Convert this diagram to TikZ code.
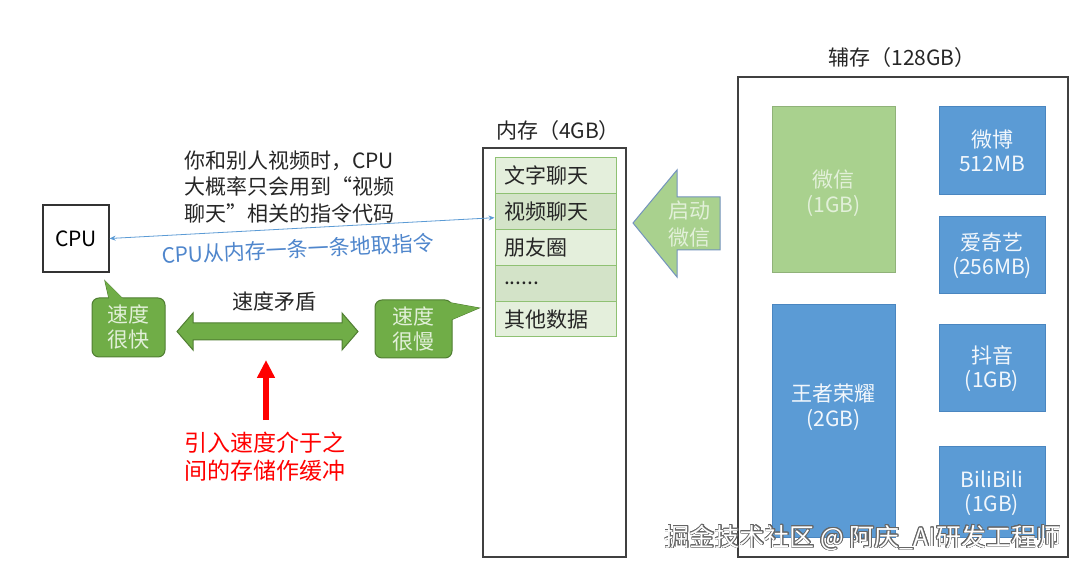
\documentclass[tikz,border=0pt]{standalone}
\usepackage{fontspec}
\setmainfont{Noto Sans CJK SC}
\usepackage{contour}
\usetikzlibrary{arrows.meta,positioning}

\definecolor{frame}{HTML}{404040}
\definecolor{fastgreen}{HTML}{70AD47}
\definecolor{greenedge}{HTML}{507E32}
\definecolor{palegreen}{HTML}{E2F0D9}
\definecolor{slotlight}{HTML}{E4EFDC}
\definecolor{slotdark}{HTML}{D3E3C8}
\definecolor{slotedge}{HTML}{8FC173}
\definecolor{wxgreen}{HTML}{A9D18E}
\definecolor{startedge}{HTML}{7393BD}
\definecolor{appblue}{HTML}{5B9BD5}
\definecolor{blueedge}{HTML}{4A86C0}
\definecolor{textblue}{HTML}{4F86CC}

\newcommand\slotdots{......}

\begin{document}
\begin{tikzpicture}[
  x=1pt, y=-1pt,
  font=\fontsize{21pt}{26.5pt}\selectfont,
  inner sep=0pt,
  box/.style={draw=frame, line width=1.2pt, fill=white},
  slot/.style={
    draw=slotedge, line width=1pt, minimum width=121pt, minimum height=35.8pt,
    text width=103pt, inner xsep=9pt, align=left, text=black!85,
  },
  bubble/.style={
    draw=greenedge, fill=fastgreen, line width=1pt, rounded corners=7pt,
    align=center, text=palegreen, font=\fontsize{21pt}{25pt}\selectfont,
  },
  tail/.style={draw=greenedge, fill=fastgreen, line width=1pt},
  app/.style={draw=blueedge, fill=appblue, line width=1pt},
  apptext/.style={align=center, text=white!92!appblue, font=\fontsize{21pt}{24.5pt}\selectfont},
  flow/.style={{Stealth[length=6pt, width=5pt]}-{Stealth[length=6pt, width=5pt]}, draw=appblue, line width=0.8pt},
  buffer/.style={-{Triangle[length=18pt, width=17pt]}, draw=red, line width=6pt},
]

\fill[white] (0,0) rectangle (1080,569);
\useasboundingbox (0,0) rectangle (1080,569);

% ---- CPU and the note about video chat ------------------------------------
\node[box, draw=black!80, minimum width=66pt, minimum height=67pt] (cpu) at (76,238.5) {CPU};
\node[align=left, anchor=west, text=black!85] (note) at (184,187)
  {你和别人视频时，CPU\\大概率只会用到“视频\\聊天”相关的指令代码};

% ---- Main memory and its slots -------------------------------------------
\node[text=black!85] (memlabel) at (558,131) {内存（4GB）};
\node[box, minimum width=143pt, minimum height=409pt] (mem) at (554.5,352.5) {};
\foreach \i/\txt/\col in {1/文字聊天/slotlight, 2/视频聊天/slotdark, 3/朋友圈/slotlight,
                          4/\slotdots/slotdark, 5/其他数据/slotlight}
  \node[slot, fill=\col] (slot\i) at (555.5,{158+35.8*(\i-0.5)}) {\txt};

% ---- Fetching instructions ------------------------------------------------
\draw[flow] (cpu.east) -- ([yshift=-6pt]slot2.west);
\node[text=textblue, rotate=2.7] (fetch) at (298,249) {CPU从内存一条一条地取指令};

% ---- Speed callouts -------------------------------------------------------
\filldraw[tail] (110,303) -- (105,281) -- (127,303) -- cycle;
\node[bubble, minimum width=73pt, minimum height=59pt] (fast) at (128.5,327.5) {速度\\很快};
\fill[fastgreen] (110,303) -- (105,281) -- (127,303) -- cycle;

\filldraw[tail] (446,302) -- (479,308) -- (446,322) -- cycle;
\node[bubble, minimum width=77pt, minimum height=58pt] (slow) at (413.5,329) {速度\\很慢};
\fill[fastgreen] (446,302) -- (479,308) -- (446,322) -- cycle;

\node[text=black!85] (conflict) at (274,302) {速度矛盾};
\filldraw[draw=greenedge, fill=fastgreen, line width=1pt]
  (177,331.5) -- (193,313) -- (193,323) -- (342,323) -- (342,313) -- (358,331.5)
  -- (342,350) -- (342,340) -- (193,340) -- (193,350) -- cycle;

% ---- The buffer idea -------------------------------------------------------
\node[align=left, text=red, font=\fontsize{23pt}{28pt}\selectfont] (idea) at (265,457)
  {引入速度介于之\\间的存储作缓冲};
\coordinate (gap) at (266,360);
\draw[buffer] ([yshift=12pt]idea.north -| gap) -- (gap);

% ---- Launching WeChat from storage ----------------------------------------
\filldraw[draw=startedge, fill=wxgreen, line width=1pt]
  (633,223) -- (677,170) -- (677,197) -- (720,197) -- (720,250) -- (677,250)
  -- (677,277) -- cycle;
\node[align=center, text=palegreen, font=\fontsize{21pt}{27pt}\selectfont] (launch) at (689,224) {启动\\微信};

% ---- Secondary storage -----------------------------------------------------
\node[text=black!85] (disklabel) at (902,58) {辅存（128GB）};
\node[box, minimum width=330pt, minimum height=480pt] (disk) at (903,317) {};

\node[app, draw=wxgreen!85!black, fill=wxgreen, minimum width=123pt, minimum height=166pt] (wechat) at (833.5,190) {};
\node[apptext, text=palegreen] at ([yshift=-3pt]wechat.center) {微信\\(1GB)};
\node[app, minimum width=123pt, minimum height=232pt] (honor) at (833.5,421) {};
\node[apptext] at ([yshift=14pt]honor.center) {王者荣耀\\(2GB)};

\node[app, minimum width=106pt, minimum height=88pt] (weibo) at (992,151) {};
\node[apptext] at (weibo) {微博\\512MB};
\node[app, minimum width=106pt, minimum height=77pt] (iqiyi) at (992,255.5) {};
\node[apptext] at (iqiyi) {爱奇艺\\(256MB)};
\node[app, minimum width=106pt, minimum height=87pt] (douyin) at (992,368.5) {};
\node[apptext] at (douyin) {抖音\\(1GB)};
\node[app, minimum width=106pt, minimum height=90pt] (bili) at (992,492) {};
\node[apptext] at ([yshift=-1pt]bili.center) {BiliBili\\(1GB)};

% ---- Watermark ---------------------------------------------------------------
\contourlength{0.8pt}
\node[text=white, font=\fontsize{25pt}{25pt}\selectfont] (mark) at (863,538)
  {\contour{black!60}{掘金技术社区 @ 阿庆\_AI研发工程师}};

\end{tikzpicture}
\end{document}
